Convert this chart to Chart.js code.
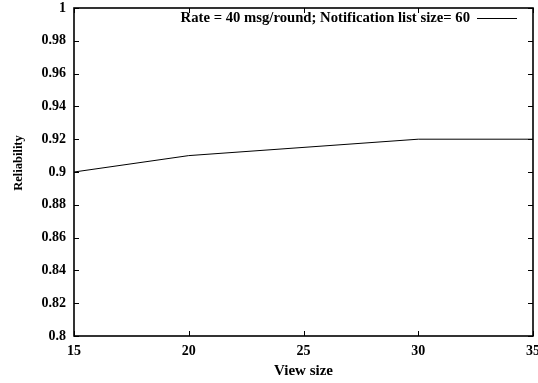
<!DOCTYPE html>
<html>
<head>
<meta charset="utf-8">
<script src="https://cdn.jsdelivr.net/npm/chart.js@4/dist/chart.umd.min.js"></script>
<style>
	html, body { margin: 0; padding: 0; background: #fff; }
	#wrap { width: 538px; height: 383px; }
</style>
</head>
<body>
<div id="wrap"><canvas id="chart" width="538" height="383"></canvas></div>
<script>

//
// chart data
//

const viewSizes = [15, 20, 30, 35];
const reliability = [0.90, 0.91, 0.92, 0.92];
const seriesLabel = 'Rate = 40 msg/round; Notification list size= 60';
const xTitle = 'View size';
const yTitle = 'Reliability';
const xTicks = [15, 20, 25, 30, 35];
const yTicks = [0.8, 0.82, 0.84, 0.86, 0.88, 0.9, 0.92, 0.94, 0.96, 0.98, 1];

const tickFont = { family: 'Liberation Serif', size: 14, weight: 'bold' };
const titleFont = { family: 'Liberation Serif', size: 15, weight: 'bold' };

// draws the frame, inward ticks on all four sides, the y title and the key
//
const framePlugin = {
	id: 'frame',
	afterDraw: function(chart) {
		let ctx = chart.ctx;
		let area = chart.chartArea;
		let x = chart.scales.x;
		let y = chart.scales.y;
		let len = 5;

		ctx.save();
		ctx.strokeStyle = '#000';
		ctx.lineWidth = 1;
		ctx.beginPath();
		xTicks.forEach(function(v) {
			let px = Math.round(x.getPixelForValue(v)) + 0.5;
			ctx.moveTo(px, area.bottom);
			ctx.lineTo(px, area.bottom - len);
			ctx.moveTo(px, area.top);
			ctx.lineTo(px, area.top + len);
		});
		yTicks.forEach(function(v) {
			let py = Math.round(y.getPixelForValue(v)) + 0.5;
			ctx.moveTo(area.left, py);
			ctx.lineTo(area.left + len, py);
			ctx.moveTo(area.right, py);
			ctx.lineTo(area.right - len, py);
		});
		ctx.stroke();

		ctx.lineWidth = 1.6;
		ctx.strokeRect(area.left, area.top, area.right - area.left, area.bottom - area.top);

		// y axis title
		ctx.fillStyle = '#000';
		ctx.font = 'bold 12.5px "Liberation Serif"';
		ctx.textAlign = 'center';
		ctx.textBaseline = 'middle';
		ctx.translate(19, 163);
		ctx.rotate(-Math.PI / 2);
		ctx.fillText(yTitle, 0, 0);
		ctx.setTransform(1, 0, 0, 1, 0, 0);

		// key
		let ds = chart.data.datasets[0];
		let ky = area.top + 10;
		let lineRight = area.right - 16;
		let lineLeft = lineRight - 40;
		ctx.font = 'bold 14.7px "Liberation Serif"';
		ctx.textAlign = 'right';
		ctx.fillText(ds.label, lineLeft - 7, ky);
		ctx.lineWidth = 1;
		ctx.beginPath();
		ctx.moveTo(lineLeft, ky + 0.5);
		ctx.lineTo(lineRight, ky + 0.5);
		ctx.stroke();
		ctx.restore();
	}
};

new Chart(document.getElementById('chart').getContext('2d'), {
	type: 'line',
	data: {
		datasets: [{
			label: seriesLabel,
			data: viewSizes.map(function(v, i) {
				return { x: v, y: reliability[i] };
			}),
			borderColor: '#000',
			borderWidth: 1,
			pointRadius: 0,
			tension: 0,
			fill: false
		}]
	},
	options: {
		responsive: false,
		animation: false,
		layout: {
			padding: { top: 8, right: 5, left: 0, bottom: 0 }
		},
		plugins: {
			legend: { display: false },
			tooltip: { enabled: false }
		},
		scales: {
			x: {
				type: 'linear',
				min: 15,
				max: 35,
				afterBuildTicks: function(scale) {
					scale.ticks = xTicks.map(function(v) { return { value: v }; });
				},
				afterFit: function(scale) {
					scale.height = 47;
					scale.paddingLeft = 0;
					scale.paddingRight = 0;
				},
				grid: { display: false, drawTicks: false },
				border: { display: false },
				ticks: {
					color: '#000',
					font: tickFont,
					padding: 7,
					maxRotation: 0
				},
				title: {
					display: true,
					text: xTitle,
					color: '#000',
					font: titleFont,
					padding: { top: 2, bottom: 3 }
				}
			},
			y: {
				type: 'linear',
				min: 0.8,
				max: 1,
				afterBuildTicks: function(scale) {
					scale.ticks = yTicks.map(function(v) { return { value: v }; });
				},
				afterFit: function(scale) {
					scale.width = 74;
					scale.paddingTop = 0;
					scale.paddingBottom = 0;
				},
				grid: { display: false, drawTicks: false },
				border: { display: false },
				ticks: {
					color: '#000',
					font: tickFont,
					padding: 8,
					callback: function(v) {
						return String(Math.round(v * 100) / 100);
					}
				}
			}
		}
	},
	plugins: [framePlugin]
});
</script>
</body>
</html>
